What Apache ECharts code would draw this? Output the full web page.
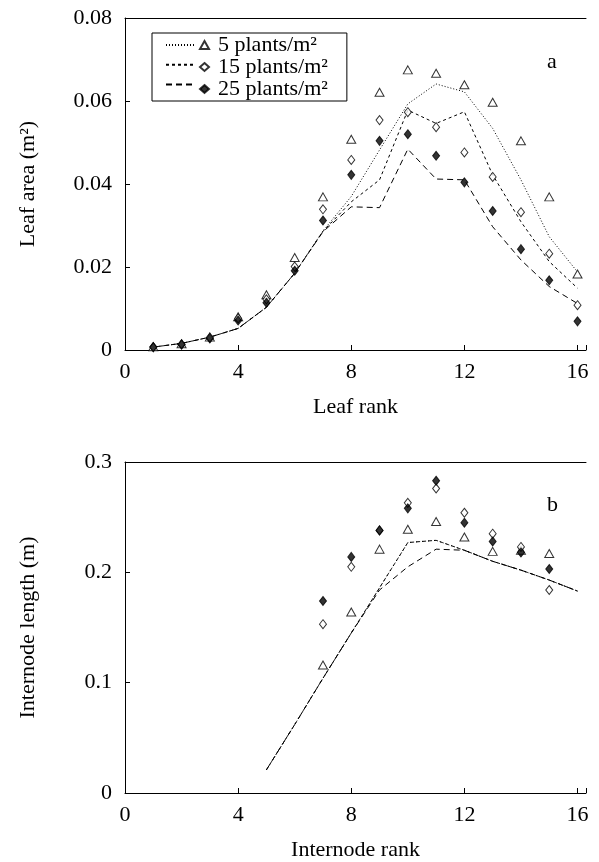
<!DOCTYPE html>
<html>
<head>
<meta charset="utf-8">
<script src="https://cdn.jsdelivr.net/npm/echarts@6/dist/echarts.min.js"></script>
<style>
html,body{margin:0;padding:0;background:#fff;}
#chart{width:599px;height:862px;}
</style>
</head>
<body>
<div id="chart"></div>
<script>
// ---- data ----
const seriesNames = ['5 plants/m²', '15 plants/m²', '25 plants/m²'];
const simNames = ['sim 5 plants/m²', 'sim 15 plants/m²', 'sim 25 plants/m²'];

// Panel a: leaf area (m²) vs leaf rank
const leafRanks = [1, 2, 3, 4, 5, 6, 7, 8, 9, 10, 11, 12, 13, 14, 15, 16];
const leafObs5  = [0.0008, 0.0015, 0.0031, 0.0080, 0.0133, 0.0223, 0.0369, 0.0508, 0.0621, 0.0675, 0.0667, 0.0639, 0.0597, 0.0504, 0.0369, 0.0183];
const leafObs15 = [0.0007, 0.0014, 0.0030, 0.0076, 0.0122, 0.0201, 0.0339, 0.0458, 0.0554, 0.0573, 0.0537, 0.0476, 0.0417, 0.0332, 0.0232, 0.0108];
const leafObs25 = [0.0007, 0.0013, 0.0028, 0.0071, 0.0114, 0.0191, 0.0312, 0.0422, 0.0504, 0.0520, 0.0468, 0.0404, 0.0335, 0.0243, 0.0168, 0.0069];
const leafSim5  = [0.0007, 0.0016, 0.0031, 0.0052, 0.0103, 0.0185, 0.0287, 0.0370, 0.0482, 0.0593, 0.0641, 0.0622, 0.0534, 0.0410, 0.0273, 0.0188];
const leafSim15 = [0.0007, 0.0016, 0.0031, 0.0052, 0.0103, 0.0185, 0.0286, 0.0357, 0.0410, 0.0578, 0.0546, 0.0574, 0.0422, 0.0309, 0.0213, 0.0149];
const leafSim25 = [0.0007, 0.0016, 0.0031, 0.0052, 0.0103, 0.0185, 0.0285, 0.0345, 0.0343, 0.0484, 0.0412, 0.0410, 0.0297, 0.0217, 0.0153, 0.0112];

// Panel b: internode length (m) vs internode rank
const nodeObsRanks = [7, 8, 9, 10, 11, 12, 13, 14, 15];
const nodeObs5  = [0.116, 0.164, 0.221, 0.239, 0.246, 0.232, 0.219, 0.220, 0.217];
const nodeObs15 = [0.153, 0.205, 0.238, 0.263, 0.276, 0.254, 0.235, 0.223, 0.184];
const nodeObs25 = [0.174, 0.214, 0.238, 0.258, 0.283, 0.245, 0.228, 0.218, 0.203];
const nodeSimRanks = [5, 6, 7, 8, 9, 10, 11, 12, 13, 14, 15, 16];
const nodeSim5  = [0.021, 0.062, 0.104, 0.145, 0.186, 0.227, 0.229, 0.220, 0.210, 0.202, 0.193, 0.183];
const nodeSim15 = [0.021, 0.062, 0.104, 0.145, 0.186, 0.227, 0.229, 0.220, 0.210, 0.202, 0.193, 0.183];
const nodeSim25 = [0.021, 0.062, 0.104, 0.145, 0.184, 0.205, 0.221, 0.220, 0.210, 0.202, 0.193, 0.183];

const xTicks = [0, 4, 8, 12, 16];

// ---- styles ----
const FONT = 'Liberation Serif';
const FS = 22;
const lineDash = [[1, 2], [3, 3], [6, 4]];
const symbols = [
  {symbol: 'triangle', symbolSize: [9, 8], itemStyle: {color: '#fff', borderColor: '#000', borderWidth: 1}},
  {symbol: 'diamond', symbolSize: [7, 9], itemStyle: {color: '#fff', borderColor: '#000', borderWidth: 1}},
  {symbol: 'diamond', symbolSize: [7, 9], itemStyle: {color: '#000', borderColor: '#000', borderWidth: 1}}
];
const pairs = (xs, ys) => xs.map((x, i) => [x, ys[i]]);

function xAxisBottom(gridIndex, name) {
  return {
    type: 'value', gridIndex, min: 0, max: 16.3, interval: 4, position: 'bottom',
    name, nameLocation: 'middle', nameGap: 46,
    nameTextStyle: {fontFamily: FONT, fontSize: FS, color: '#000'},
    axisLine: {show: true, onZero: false, lineStyle: {color: '#000', width: 1}},
    axisTick: {show: true, inside: true, length: 5, lineStyle: {color: '#000'}},
    axisLabel: {fontFamily: FONT, fontSize: FS, color: '#000', margin: 11,
      formatter: v => (xTicks.indexOf(v) >= 0 ? String(v) : '')},
    splitLine: {show: false}
  };
}
function xAxisTop(gridIndex) {
  return {
    type: 'value', gridIndex, min: 0, max: 16.3, position: 'top',
    axisLine: {show: true, onZero: false, lineStyle: {color: '#000', width: 1}},
    axisTick: {show: false}, axisLabel: {show: false}, splitLine: {show: false}
  };
}
function yAxis(gridIndex, max, interval, name, digits) {
  return {
    type: 'value', gridIndex, min: 0, max, interval,
    name, nameLocation: 'middle', nameGap: 86, nameRotate: 90,
    nameTextStyle: {fontFamily: FONT, fontSize: FS, color: '#000'},
    axisLine: {show: true, onZero: false, lineStyle: {color: '#000', width: 1}},
    axisTick: {show: true, inside: true, length: 5, lineStyle: {color: '#000'}},
    axisLabel: {fontFamily: FONT, fontSize: FS, color: '#000', margin: 13,
      formatter: v => (v === 0 ? '0' : v.toFixed(digits))},
    splitLine: {show: false}
  };
}

const series = [];
const simA = [leafSim5, leafSim15, leafSim25];
const obsA = [leafObs5, leafObs15, leafObs25];
const simB = [nodeSim5, nodeSim15, nodeSim25];
const obsB = [nodeObs5, nodeObs15, nodeObs25];
for (let k = 0; k < 3; k++) {
  series.push({
    name: simNames[k], type: 'line', xAxisIndex: 0, yAxisIndex: 0,
    data: pairs(leafRanks, simA[k]), symbol: 'none', z: 2,
    itemStyle: {color: '#000'},
    lineStyle: {color: '#000', width: 1, type: lineDash[k]}
  });
  series.push({
    name: simNames[k], type: 'line', xAxisIndex: 1, yAxisIndex: 1,
    data: pairs(nodeSimRanks, simB[k]), symbol: 'none', z: 2,
    itemStyle: {color: '#000'},
    lineStyle: {color: '#000', width: 1, type: lineDash[k]}
  });
}
for (let k = 0; k < 3; k++) {
  series.push(Object.assign({
    name: seriesNames[k], type: 'scatter', xAxisIndex: 0, yAxisIndex: 0,
    data: pairs(leafRanks, obsA[k]), z: 3
  }, JSON.parse(JSON.stringify(symbols[k]))));
  series.push(Object.assign({
    name: seriesNames[k], type: 'scatter', xAxisIndex: 1, yAxisIndex: 1,
    data: pairs(nodeObsRanks, obsB[k]), z: 3
  }, JSON.parse(JSON.stringify(symbols[k]))));
}

const chart = echarts.init(document.getElementById('chart'), null, {renderer: 'canvas'});
chart.setOption({
  backgroundColor: '#fff',
  animation: false,
  grid: [
    {left: 125, top: 18, width: 461, height: 332},
    {left: 125, top: 462, width: 461, height: 332}
  ],
  xAxis: [xAxisBottom(0, 'Leaf rank'), xAxisBottom(1, 'Internode rank'), xAxisTop(0), xAxisTop(1)],
  yAxis: [yAxis(0, 0.08, 0.02, 'Leaf area (m²)', 2), yAxis(1, 0.3, 0.1, 'Internode length (m)', 1)],
  legend: [
    {
      orient: 'vertical', left: 152, top: 33, selectedMode: false,
      data: seriesNames, itemWidth: 9, itemHeight: 8, itemGap: 0,
      padding: [1, 19, 1, 47], borderColor: '#000', borderWidth: 1, backgroundColor: '#fff',
      textStyle: {fontFamily: FONT, fontSize: FS, color: '#000', lineHeight: 22, padding: [0, 0, 0, 4]}
    },
    {
      orient: 'vertical', left: 165, top: 33, selectedMode: false,
      data: simNames, itemWidth: 28, itemHeight: 22, itemGap: 0,
      padding: [1, 0, 1, 0], formatter: () => '',
      itemStyle: {opacity: 0},
      textStyle: {fontSize: 1}
    }
  ],
  graphic: [
    {type: 'text', left: 547, top: 51, style: {text: 'a', font: '22px "Liberation Serif"', fill: '#000'}},
    {type: 'text', left: 547, top: 494, style: {text: 'b', font: '22px "Liberation Serif"', fill: '#000'}}
  ],
  series
});
</script>
</body>
</html>
